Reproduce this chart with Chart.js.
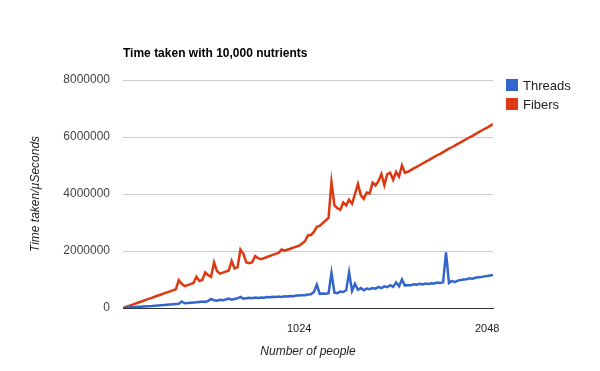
<!DOCTYPE html>
<html>
<head>
<meta charset="utf-8">
<script src="https://cdn.jsdelivr.net/npm/chart.js@4/dist/chart.umd.min.js"></script>
<style>
  body { margin: 0; background: #fff; }
  canvas { display: block; }
</style>
</head>
<body>
<canvas id="timeChart" width="600" height="371"></canvas>
<script>
var chartTitle = 'Time taken with 10,000 nutrients';
var seriesNames = ['Threads', 'Fibers'];
var seriesColors = ['#3366cc', '#dc3912'];
var xTicks = [1024, 2048];
var yTicks = [0, 2000000, 4000000, 6000000, 8000000];

var people = [64, 80, 96, 112, 128, 144, 160, 176, 192, 208, 224, 240, 256, 272, 288, 304,
    320, 336, 352, 368, 384, 400, 416, 432, 448, 464, 480, 496, 512, 528, 544, 560,
    576, 592, 608, 624, 640, 656, 672, 688, 704, 720, 736, 752, 768, 784, 800, 816,
    832, 848, 864, 880, 896, 912, 928, 944, 960, 976, 992, 1008, 1024, 1040, 1056, 1072,
    1088, 1104, 1120, 1136, 1152, 1168, 1184, 1200, 1216, 1232, 1248, 1264, 1280, 1296, 1312, 1328,
    1344, 1360, 1376, 1392, 1408, 1424, 1440, 1456, 1472, 1488, 1504, 1520, 1536, 1552, 1568, 1584,
    1600, 1616, 1632, 1648, 1664, 1680, 1696, 1712, 1728, 1744, 1760, 1776, 1792, 1808, 1824, 1840,
    1856, 1872, 1888, 1904, 1920, 1936, 1952, 1968, 1984, 2000, 2016, 2032, 2048, 2064, 2080];

// time in microseconds
var threads = [0, 8000, 16000, 25000, 32000, 40000, 45000, 52000, 58000, 64000, 70000, 80000, 88000, 97000, 105000, 115000,
    125000, 133000, 142000, 150000, 230000, 168000, 175000, 185000, 192000, 200000, 212000, 225000, 210000, 250000, 320000, 270000,
    255000, 285000, 275000, 300000, 330000, 290000, 318000, 340000, 390000, 330000, 345000, 355000, 340000, 365000, 350000, 370000,
    360000, 385000, 375000, 395000, 385000, 400000, 390000, 410000, 400000, 420000, 415000, 435000, 440000, 450000, 445000, 470000,
    480000, 560000, 820000, 495000, 510000, 500000, 520000, 1230000, 540000, 520000, 580000, 560000, 620000, 1250000, 600000, 850000,
    640000, 700000, 620000, 680000, 660000, 700000, 680000, 740000, 700000, 760000, 730000, 800000, 740000, 900000, 760000, 1000000,
    790000, 810000, 800000, 830000, 820000, 850000, 830000, 860000, 845000, 870000, 860000, 890000, 875000, 900000, 1950000, 880000,
    950000, 910000, 960000, 980000, 1000000, 1010000, 1040000, 1030000, 1060000, 1080000, 1090000, 1110000, 1120000, 1140000, 1160000];

var fibers = [0, 37000, 72000, 110000, 146000, 183000, 218000, 256000, 292000, 330000, 365000, 402000, 438000, 475000, 511000, 548000,
    584000, 620000, 657000, 980000, 850000, 768000, 803000, 840000, 876000, 1100000, 950000, 985000, 1250000, 1150000, 1095000, 1600000,
    1300000, 1205000, 1240000, 1278000, 1314000, 1650000, 1388000, 1424000, 2050000, 1900000, 1600000, 1570000, 1606000, 1820000, 1750000, 1715000,
    1752000, 1790000, 1825000, 1862000, 1898000, 1935000, 2050000, 2008000, 2044000, 2080000, 2118000, 2154000, 2190000, 2260000, 2350000, 2550000,
    2560000, 2670000, 2850000, 2880000, 2980000, 3070000, 3160000, 4420000, 3600000, 3500000, 3450000, 3700000, 3600000, 3800000, 3660000, 4000000,
    4350000, 3950000, 3830000, 4050000, 4020000, 4400000, 4300000, 4450000, 4700000, 4310000, 4700000, 4750000, 4500000, 4780000, 4610000, 5000000,
    4750000, 4780000, 4840000, 4900000, 4950000, 5010000, 5070000, 5130000, 5180000, 5240000, 5300000, 5360000, 5410000, 5470000, 5530000, 5590000,
    5640000, 5700000, 5760000, 5810000, 5870000, 5930000, 5990000, 6040000, 6100000, 6160000, 6220000, 6280000, 6330000, 6390000, 6450000];

var fontFamily = 'Arial, "Liberation Sans", sans-serif';

function toPoints(values) {
    return values.map(function (v, i) { return { x: people[i], y: v }; });
}

var titleAndLegend = {
    id: 'titleAndLegend',
    afterDraw: function (chart) {
        var ctx = chart.ctx;
        var area = chart.chartArea;
        ctx.save();
        ctx.fillStyle = '#000';
        ctx.font = 'bold 12px ' + fontFamily;
        ctx.textBaseline = 'alphabetic';
        ctx.textAlign = 'left';
        ctx.fillText(chartTitle, area.left, 57);

        ctx.font = '13px ' + fontFamily;
        ctx.textBaseline = 'middle';
        for (var i = 0; i < seriesNames.length; i++) {
            var cy = 85 + i * 19;
            ctx.fillStyle = seriesColors[i];
            ctx.fillRect(area.right + 13, cy - 6, 12, 12);
            ctx.fillStyle = '#222';
            ctx.fillText(seriesNames[i], area.right + 30, cy + 1);
        }
        ctx.restore();
    }
};

var ctx = document.getElementById('timeChart').getContext('2d');

var timeChart = new Chart(ctx, {
    type: 'line',
    data: {
        datasets: [{
            label: seriesNames[0],
            data: toPoints(threads),
            borderColor: seriesColors[0],
            backgroundColor: seriesColors[0],
            borderWidth: 2.5,
            pointRadius: 0,
            tension: 0
        }, {
            label: seriesNames[1],
            data: toPoints(fibers),
            borderColor: seriesColors[1],
            backgroundColor: seriesColors[1],
            borderWidth: 2.5,
            pointRadius: 0,
            tension: 0
        }]
    },
    options: {
        responsive: false,
        animation: false,
        layout: {
            padding: { left: 0, top: 80, right: 107, bottom: 0 }
        },
        plugins: {
            legend: { display: false },
            title: { display: false },
            tooltip: { enabled: false }
        },
        scales: {
            x: {
                type: 'linear',
                min: people[0],
                max: people[people.length - 1],
                afterFit: function (scale) { scale.height = 63; },
                afterBuildTicks: function (scale) {
                    scale.ticks = xTicks.map(function (v) { return { value: v }; });
                },
                grid: { display: false },
                border: { display: true, color: '#333', width: 1 },
                ticks: {
                    color: '#222',
                    padding: 6,
                    maxRotation: 0,
                    font: { family: fontFamily, size: 11 },
                    callback: function (v) { return String(v); }
                },
                title: {
                    display: true,
                    text: 'Number of people',
                    color: '#222',
                    padding: { top: 0, bottom: 12 },
                    font: { family: fontFamily, size: 12, style: 'italic' }
                }
            },
            y: {
                min: yTicks[0],
                max: yTicks[yTicks.length - 1],
                afterFit: function (scale) { scale.width = 123; },
                afterBuildTicks: function (scale) {
                    scale.ticks = yTicks.map(function (v) { return { value: v }; });
                },
                grid: { color: '#cccccc', drawTicks: false },
                border: { display: false },
                ticks: {
                    color: '#444',
                    padding: 13,
                    font: { family: fontFamily, size: 12 },
                    callback: function (v) { return String(v); }
                },
                title: {
                    display: true,
                    text: 'Time taken/µSeconds',
                    color: '#222',
                    padding: { top: 28, bottom: 0 },
                    font: { family: fontFamily, size: 12, style: 'italic' }
                }
            }
        }
    },
    plugins: [titleAndLegend]
});
</script>
</body>
</html>
